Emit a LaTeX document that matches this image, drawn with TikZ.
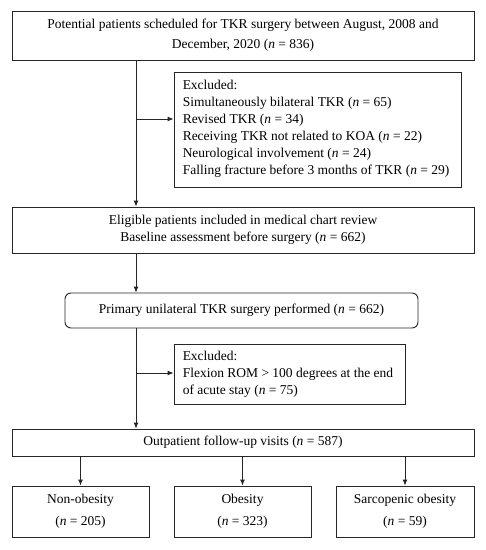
\documentclass[tikz,border=0pt]{standalone}
\usepackage{fontspec}
\setmainfont{Liberation Serif}
\usetikzlibrary{arrows.meta}
\tikzset{
  box/.style={draw=black!85, line width=0.9pt, inner sep=0pt, align=center, font=\fontsize{13.5}{#1}\selectfont},
  box/.default=17,
  frame/.style={draw=black!85, line width=0.9pt, inner sep=0pt},
  extext/.style={inner sep=0pt, anchor=west, align=left, font=\fontsize{13.5}{17}\selectfont},
  arr/.style={draw=black!85, line width=0.9pt, -{Latex[length=6pt,width=5pt]}}
}
\newcommand{\nn}{\textit{n}}
\begin{document}
\begin{tikzpicture}[x=1pt,y=1pt]
\useasboundingbox (0,0) rectangle (486,-550);
\node[box=20, minimum width=462pt, minimum height=49pt] (top) at (243,-35.5)
  {Potential patients scheduled for TKR surgery between August, 2008 and\\December, 2020 (\nn{} = 836)};
\node[frame, minimum width=287pt, minimum height=115pt] (ex1) at (317.5,-129.5) {};
\node[extext] (ex1t) at ([xshift=9pt,yshift=0.5pt]ex1.west)
  {Excluded:\\Simultaneously bilateral TKR (\nn{} = 65)\\Revised TKR (\nn{} = 34)\\Receiving TKR not related to KOA (\nn{} = 22)\\Neurological involvement (\nn{} = 24)\\Falling fracture before 3 months of TKR (\nn{} = 29)};
\node[box=17, minimum width=462pt, minimum height=46pt] (elig) at (243,-230)
  {Eligible patients included in medical chart review\\Baseline assessment before surgery (\nn{} = 662)};
\node[box, rounded corners=6pt, minimum width=353pt, minimum height=35pt] (prim) at (241.5,-310.5)
  {Primary unilateral TKR surgery performed (\nn{} = 662)};
\node[frame, minimum width=231pt, minimum height=60pt] (ex2) at (289.5,-374) {};
\node[extext] (ex2t) at ([xshift=9pt]ex2.west)
  {Excluded:\\Flexion ROM > 100 degrees at the end\\of acute stay (\nn{} = 75)};
\node[box, minimum width=462pt, minimum height=27pt] (out) at (243,-442.5)
  {Outpatient follow-up visits (\nn{} = 587)};
\node[box=22, minimum width=137pt, minimum height=51pt] (g1) at (80.5,-511.5)
  {Non-obesity\\(\nn{} = 205)};
\node[box=22, minimum width=137pt, minimum height=51pt] (g2) at (242.5,-511.5)
  {Obesity\\(\nn{} = 323)};
\node[box=22, minimum width=138pt, minimum height=51pt] (g3) at (405,-511.5)
  {Sarcopenic obesity\\(\nn{} = 59)};
\coordinate (t) at (136,0);
\coordinate (b1) at (136,-119);
\coordinate (b2) at (136,-373);
\draw[arr] (top.south -| t) -- (elig.north -| t);
\draw[arr] (b1) -- (b1 -| ex1.west);
\draw[arr] (elig.south -| t) -- (prim.north -| t);
\draw[arr] (prim.south -| t) -- (out.north -| t);
\draw[arr] (b2) -- (b2 -| ex2.west);
\draw[arr] (out.south -| g1.north) -- (g1.north);
\draw[arr] (out.south -| g2.north) -- (g2.north);
\draw[arr] (out.south -| g3.north) -- (g3.north);
\end{tikzpicture}
\end{document}
